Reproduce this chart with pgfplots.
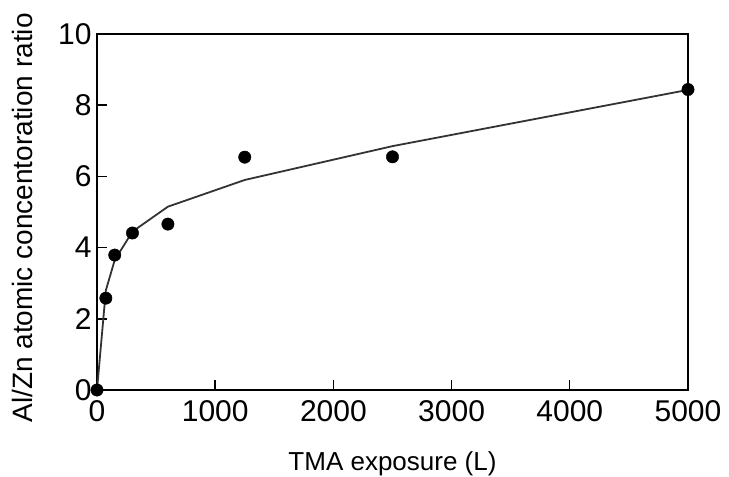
\documentclass[border=0pt]{standalone}
\usepackage{pgfplots}
\pgfplotsset{compat=1.18}
\usepackage{fontspec}
\setmainfont{Liberation Sans}
\begin{document}
\begin{tikzpicture}
% frame of the whole picture, in the reference's proportions
\useasboundingbox (-97pt,-87pt) rectangle (632pt,390pt);
\begin{axis}[
    scale only axis,
    width=591pt, height=356pt,
    xmin=0, xmax=5000, ymin=0, ymax=10,
    xtick={0,1000,2000,3000,4000,5000},
    ytick={0,2,4,6,8,10},
    tick align=inside,
    xtick pos=bottom, ytick pos=left,
    major tick length=10pt,
    axis line style={line width=1.6pt},
    every tick/.style={line width=1.4pt, black},
    scaled x ticks=false,
    /pgf/number format/assume math mode=true,
    /pgf/number format/1000 sep={},
    tick label style={font=\fontsize{30}{32}\selectfont},
    xticklabel style={yshift=-7pt},
    yticklabel style={xshift=-2pt},
    xlabel={TMA exposure (L)},
    ylabel={Al/Zn atomic concentoration ratio},
    xlabel style={font=\fontsize{26}{28}\selectfont,
        at={(axis description cs:0.5,0)}, anchor=base, yshift=-80pt},
    ylabel style={font=\fontsize{28}{30}\selectfont,
        at={(axis description cs:0,0.5)}, anchor=base, yshift=64pt, xshift=-6pt},
    clip=false,
]
\addplot[color=black!80, line width=1.8pt, no marks] coordinates {
    (0,0) (75,2.8) (150,3.65) (300,4.45) (600,5.15) (1250,5.9) (2500,6.85) (5000,8.43)
};
\addplot[only marks, mark=*, mark size=6.2pt, black] coordinates {
    (0,0) (75,2.58) (150,3.79) (300,4.41) (600,4.66) (1250,6.54) (2500,6.55) (5000,8.44)
};
\end{axis}
\end{tikzpicture}
\end{document}
